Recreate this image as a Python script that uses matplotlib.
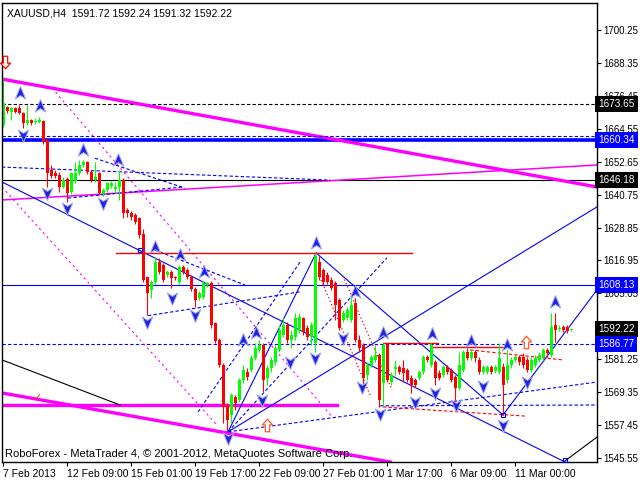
import matplotlib
matplotlib.use("Agg")
import matplotlib.pyplot as plt
from matplotlib.path import Path
from matplotlib.transforms import blended_transform_factory

plt.rcParams['font.family'] = ['Liberation Sans', 'DejaVu Sans']

# XAUUSD H4 candles, bar index 0 = 7 Feb 2013
opens = [1665.9, 1672.4, 1670.6, 1672.1, 1672.1, 1670.2, 1666.6, 1667.7, 1667.0, 1667.0,
         1667.4, 1660.5, 1649.6, 1648.6, 1647.8, 1643.5, 1646.4, 1641.7, 1645.7, 1648.6,
         1651.5, 1652.5, 1648.9, 1646.0, 1648.6, 1641.0, 1642.4, 1643.9, 1642.8, 1643.5,
         1646.0, 1635.2, 1634.1, 1633.4, 1632.3, 1626.5, 1611.0, 1606.3, 1609.2, 1616.4,
         1615.3, 1611.7, 1612.8, 1611.0, 1609.2, 1614.6, 1613.5, 1611.0, 1606.6, 1603.4,
         1603.8, 1608.1, 1608.8, 1594.3, 1588.2, 1579.2, 1564.7, 1561.1, 1567.6, 1566.5,
         1573.8, 1576.6, 1577.4, 1581.7, 1584.6, 1586.4, 1574.5, 1578.1, 1580.3, 1584.6,
         1590.0, 1593.6, 1588.2, 1589.3, 1591.8, 1596.2, 1592.5, 1589.3, 1587.1, 1616.4,
         1613.5, 1611.7, 1609.9, 1608.8, 1602.7, 1595.4, 1596.2, 1595.4, 1601.6, 1588.2,
         1586.4, 1575.6, 1579.2, 1581.0, 1582.8, 1572.7, 1586.4, 1573.0, 1577.7, 1578.5,
         1578.1, 1577.4, 1574.5, 1573.8, 1574.5, 1576.6, 1582.1, 1579.2, 1580.3, 1576.3,
         1575.6, 1578.5, 1577.4, 1574.8, 1570.9, 1577.4, 1583.9, 1581.7, 1583.9, 1581.0,
         1576.6, 1576.6, 1578.5, 1577.0, 1576.6, 1578.5, 1573.8, 1579.2, 1581.0, 1582.1,
         1582.1, 1581.0, 1577.4, 1579.2, 1581.0, 1582.1, 1584.6, 1582.8, 1593.6, 1592.2,
         1592.9, 1592.9, 1591.72]
highs = [1682.9, 1672.8, 1672.4, 1672.4, 1673.1, 1670.6, 1673.1, 1668.1, 1668.4, 1668.8,
         1667.7, 1660.8, 1651.5, 1649.6, 1648.9, 1647.1, 1647.1, 1648.9, 1652.5, 1653.3,
         1653.3, 1652.9, 1649.6, 1652.5, 1648.9, 1643.1, 1645.3, 1645.7, 1645.3, 1649.6,
         1646.8, 1635.9, 1634.8, 1634.1, 1632.7, 1628.3, 1611.3, 1609.9, 1618.2, 1617.8,
         1616.0, 1613.5, 1613.5, 1611.3, 1615.3, 1615.3, 1614.2, 1611.7, 1607.4, 1605.9,
         1609.5, 1609.2, 1609.5, 1594.7, 1588.9, 1579.9, 1565.4, 1569.1, 1568.3, 1574.5,
         1579.2, 1578.1, 1582.8, 1587.1, 1588.2, 1587.1, 1579.2, 1582.1, 1586.4, 1593.6,
         1596.2, 1594.7, 1591.8, 1598.0, 1598.0, 1596.5, 1593.6, 1594.7, 1619.65, 1618.6,
         1614.2, 1612.8, 1611.0, 1609.5, 1603.4, 1599.0, 1600.1, 1603.4, 1603.4, 1590.0,
         1587.1, 1580.3, 1582.8, 1586.4, 1583.5, 1587.1, 1587.1, 1576.6, 1581.0, 1579.2,
         1581.0, 1578.1, 1575.6, 1574.5, 1577.4, 1582.8, 1582.8, 1587.1, 1581.0, 1577.4,
         1579.2, 1579.2, 1578.1, 1575.6, 1583.9, 1584.6, 1585.3, 1584.6, 1584.6, 1582.1,
         1579.2, 1579.2, 1579.2, 1579.2, 1587.1, 1579.9, 1584.6, 1582.1, 1582.8, 1582.8,
         1583.5, 1582.1, 1582.1, 1582.8, 1583.9, 1585.3, 1585.3, 1598.0, 1598.0, 1593.6,
         1593.6, 1593.6, 1592.24]
lows = [1665.2, 1670.2, 1667.7, 1670.2, 1669.9, 1664.8, 1666.0, 1665.9, 1666.3, 1666.6,
        1659.0, 1643.5, 1646.8, 1646.8, 1641.7, 1643.1, 1638.1, 1641.0, 1645.0, 1647.8,
        1650.7, 1648.2, 1645.3, 1645.3, 1640.6, 1640.2, 1641.7, 1643.1, 1641.3, 1638.8,
        1632.3, 1632.7, 1631.6, 1630.1, 1625.1, 1609.2, 1597.2, 1603.4, 1608.4, 1612.1,
        1609.2, 1611.0, 1607.0, 1609.9, 1608.4, 1612.1, 1610.2, 1605.9, 1600.1, 1602.7,
        1603.0, 1607.4, 1592.5, 1587.1, 1578.5, 1558.2, 1555.0, 1558.2, 1562.9, 1565.8,
        1572.7, 1573.8, 1576.6, 1581.0, 1583.9, 1569.4, 1571.9, 1576.6, 1579.2, 1583.9,
        1589.3, 1587.1, 1585.3, 1588.2, 1590.7, 1590.0, 1588.2, 1586.4, 1583.9, 1609.9,
        1608.1, 1608.4, 1606.3, 1595.4, 1591.8, 1594.7, 1595.4, 1594.7, 1587.5, 1583.9,
        1571.2, 1573.8, 1578.5, 1580.3, 1564.0, 1564.7, 1573.0, 1571.9, 1575.6, 1575.9,
        1573.0, 1573.0, 1569.1, 1571.2, 1573.8, 1575.9, 1580.3, 1578.5, 1571.9, 1573.8,
        1574.8, 1575.9, 1573.0, 1566.5, 1570.1, 1576.6, 1581.0, 1581.0, 1580.3, 1575.9,
        1575.9, 1575.9, 1575.9, 1576.3, 1575.9, 1561.1, 1572.7, 1578.1, 1580.3, 1579.2,
        1578.1, 1576.6, 1576.6, 1578.5, 1580.3, 1581.0, 1582.1, 1582.1, 1587.5, 1591.5,
        1591.1, 1590.7, 1591.32]
closes = [1673.9, 1671.0, 1672.1, 1670.6, 1670.2, 1666.6, 1667.7, 1666.6, 1667.4, 1667.7,
          1659.8, 1648.6, 1647.5, 1647.5, 1643.5, 1646.0, 1641.3, 1648.6, 1648.6, 1651.5,
          1652.5, 1648.9, 1646.0, 1647.1, 1641.3, 1642.4, 1644.9, 1644.9, 1643.5, 1646.0,
          1634.1, 1634.1, 1632.7, 1630.9, 1626.3, 1609.9, 1605.2, 1609.2, 1616.4, 1612.8,
          1609.9, 1612.8, 1610.6, 1610.6, 1614.6, 1612.8, 1611.0, 1606.6, 1602.7, 1605.2,
          1608.8, 1608.8, 1593.6, 1587.8, 1579.2, 1564.0, 1559.3, 1568.3, 1565.4, 1573.8,
          1577.4, 1574.8, 1581.7, 1585.3, 1586.4, 1573.8, 1578.1, 1581.0, 1585.3, 1591.8,
          1593.6, 1588.2, 1590.0, 1596.2, 1596.5, 1591.1, 1589.3, 1593.6, 1618.6, 1611.0,
          1609.2, 1609.2, 1607.0, 1600.9, 1592.5, 1598.0, 1599.0, 1600.9, 1588.2, 1585.3,
          1574.5, 1579.2, 1582.1, 1582.8, 1566.5, 1586.4, 1573.8, 1575.6, 1578.5, 1576.6,
          1576.3, 1573.8, 1571.9, 1571.9, 1576.6, 1582.1, 1581.0, 1586.4, 1574.5, 1574.5,
          1578.5, 1576.6, 1573.8, 1570.9, 1579.2, 1583.9, 1581.7, 1583.9, 1581.7, 1576.6,
          1578.5, 1578.5, 1576.6, 1578.5, 1581.7, 1571.9, 1579.2, 1581.0, 1582.1, 1580.3,
          1579.2, 1577.4, 1581.0, 1581.7, 1582.8, 1584.6, 1583.5, 1592.9, 1591.8, 1592.5,
          1591.8, 1591.5, 1592.22]

xtick_bars = [0, 16, 32, 48, 64, 80, 96, 112, 128]
xtick_labels = ["7 Feb 2013", "12 Feb 09:00", "15 Feb 01:00", "19 Feb 17:00", "22 Feb 09:00",
                "27 Feb 01:00", "1 Mar 17:00", "6 Mar 09:00", "11 Mar 00:00"]
ytick_prices = [1700.25, 1688.35, 1676.45, 1664.55, 1652.65, 1640.75, 1628.85, 1616.95,
                1605.05, 1593.15, 1581.25, 1569.35, 1557.45, 1545.55]

# horizontal levels with their price tags on the right scale
level_prices = [1673.65, 1660.34, 1646.18, 1608.13, 1592.22, 1586.77]
level_tags = ["1673.65", "1660.34", "1646.18", "1608.13", "1592.22", "1586.77"]
level_tag_colors = ["black", "#0000ff", "black", "#0000ff", "black", "#0000ff"]

# drawn analysis objects: (bar0, price0, bar1, price1)
magenta_thick = [(-0.3, 1682.5, 148.4, 1643.5), (-0.3, 1564.7, 83.4, 1564.7),
                 (-0.3, 1569.05, 96.7, 1544.1)]
magenta_thin = [(-0.3, 1638.8, 148.4, 1651.45)]
magenta_dotted = [(-0.3, 1643.5, 53.4, 1557.5), (12.2, 1679.3, 82.2, 1560.4)]
blue_solid = [(-0.3, 1645.3, 140.4, 1544.1), (56.2, 1555.0, 148.4, 1636.3),
              (78.2, 1619.65, 124.9, 1561.1), (56.2, 1555.0, 78.2, 1619.65),
              (124.9, 1561.1, 148.4, 1606.3)]
blue_dashed = [(56.2, 1555.0, 148.4, 1573.0), (56.2, 1555.0, 95.9, 1617.9),
               (48.7, 1562.2, 74.2, 1616.4), (94.2, 1564.4, 148.4, 1564.7),
               (-0.3, 1650.7, 81.7, 1646.0), (16.2, 1639.5, 44.9, 1643.5),
               (22.9, 1653.9, 45.4, 1643.1), (36.2, 1597.0, 74.2, 1605.6),
               (37.9, 1620.7, 60.4, 1608.1), (-0.3, 1661.9, 148.4, 1661.9)]
black_thin = [(-0.3, 1581.0, 29.2, 1564.7), (140.4, 1544.5, 148.4, 1553.1)]
red_solid = [(28.2, 1619.65, 102.2, 1619.65), (94.9, 1587.1, 108.7, 1587.1),
             (107.2, 1585.7, 126.7, 1585.7)]
red_dashed = [(116.7, 1584.6, 139.9, 1581.0), (94.9, 1564.0, 130.4, 1560.7)]
red_dotted = [(78.7, 1612.4, 91.7, 1568.3), (84.9, 1611.3, 97.2, 1570.1)]

# fractal-style arrows
up_bars = [4.2, 9.2, 19.9, 28.7, 37.9, 44.2, 50.2, 59.9, 63.2, 78.2, 87.9, 94.9, 107.2,
           116.9, 125.9, 137.9]
up_prices = [1677.5, 1672.8, 1656.9, 1653.3, 1621.8, 1618.9, 1612.8, 1588.2, 1590.7, 1623.3,
             1605.6, 1590.7, 1590.4, 1587.8, 1586.4, 1601.9]
dn_bars = [4.9, 10.9, 15.9, 24.9, 35.9, 42.2, 47.9, 56.2, 64.7, 71.7, 77.9, 84.9, 89.7,
           94.2, 102.9, 107.9, 113.2, 119.9, 124.9, 130.9]
dn_prices = [1662.3, 1641.3, 1635.9, 1637.7, 1594.7, 1603.4, 1597.2, 1552.8, 1566.5, 1580.3,
             1581.7, 1588.9, 1571.2, 1561.5, 1565.8, 1569.1, 1564.7, 1571.6, 1557.5, 1573.0]
hollow_up_bars = [65.9, 130.7]
hollow_up_prices = [1557.5, 1587.5]
square_bars = [34.2, 124.9, 140.4]
square_prices = [1620.7, 1561.1, 1544.8]

fig = plt.figure(figsize=(6.4, 4.8), dpi=100)
ax = fig.add_axes([2 / 640, 18 / 480, 595 / 640, 459 / 480])
ax.set_xlim(-0.3, 148.4)
ax.set_ylim(1544.1, 1710.0)


def draw(segs, **kw):
    for x0, y0, x1, y1 in segs:
        ax.plot([x0, x1], [y0, y1], **kw)


# full-width levels
ax.axhline(1673.65, color="black", lw=0.8, ls=(0, (3, 2)), zorder=1)
ax.axhline(1660.34, color="#0000ff", lw=2.6, zorder=1)
ax.axhline(1646.18, color="black", lw=0.8, zorder=1)
ax.axhline(1608.13, color="#0000ff", lw=0.8, zorder=1)
ax.axhline(1586.77, color="#0000ff", lw=0.8, ls=(0, (3, 2)), zorder=1)

draw(magenta_thick, color="#ff00ff", lw=2.4, zorder=1)
draw(magenta_thin, color="#ff00ff", lw=1.1, zorder=1)
draw(magenta_dotted, color="#ff00ff", lw=0.8, ls=(0, (2, 3)), zorder=1)
draw(blue_solid, color="#0000ff", lw=0.8, zorder=1)
draw(blue_dashed, color="#0000ff", lw=0.8, ls=(0, (3, 2)), zorder=1)
draw(black_thin, color="black", lw=0.8, zorder=1)
draw(red_solid, color="#ff0000", lw=1.0, zorder=1)
draw(red_dashed, color="#ff0000", lw=0.8, ls=(0, (3, 2)), zorder=1)
draw(red_dotted, color="#ff0000", lw=0.9, ls=(0, (1, 2)), zorder=1)

# candles
for i, (o, h, l, c) in enumerate(zip(opens, highs, lows, closes)):
    col = "#00ff00" if c >= o else "#ff0000"
    ax.vlines(i, min(l, o, c), max(h, o, c), color=col, lw=0.8, zorder=2)
    body = c - o if abs(c - o) > 0.36 else 0.36
    ax.bar(i, body, bottom=o, width=0.75, color=col, linewidth=0, zorder=2)

# arrow markers
up_arrow = Path([(0, 1), (0.75, -0.8), (0, -0.3), (-0.75, -0.8), (0, 1)],
                [Path.MOVETO, Path.LINETO, Path.LINETO, Path.LINETO, Path.CLOSEPOLY])
dn_arrow = Path([(0, -1), (0.75, 0.8), (0, 0.3), (-0.75, 0.8), (0, -1)],
                [Path.MOVETO, Path.LINETO, Path.LINETO, Path.LINETO, Path.CLOSEPOLY])
block_up = Path([(0, 1), (0.8, 0.1), (0.35, 0.1), (0.35, -1), (-0.35, -1), (-0.35, 0.1),
                 (-0.8, 0.1), (0, 1)],
                [Path.MOVETO] + [Path.LINETO] * 6 + [Path.CLOSEPOLY])
block_dn = Path([(0, -1), (0.8, -0.1), (0.35, -0.1), (0.35, 1), (-0.35, 1), (-0.35, -0.1),
                 (-0.8, -0.1), (0, -1)],
                [Path.MOVETO] + [Path.LINETO] * 6 + [Path.CLOSEPOLY])

ax.plot(up_bars, up_prices, ls="none", marker=up_arrow, ms=10, mfc="#2323d8",
        mec="#a0a8ff", mew=0.7, zorder=4)
ax.plot(dn_bars, dn_prices, ls="none", marker=dn_arrow, ms=10, mfc="#2323d8",
        mec="#a0a8ff", mew=0.7, zorder=4)
ax.plot(hollow_up_bars, hollow_up_prices, ls="none", marker=block_up, ms=9, mfc="white",
        mec="#ff5a28", mew=0.9, zorder=4)
ax.plot([0.4], [1688.7], ls="none", marker=block_dn, ms=9, mfc="white", mec="#ff0000",
        mew=0.9, zorder=4, clip_on=False)
ax.plot(square_bars, square_prices, ls="none", marker="s", ms=3.5, mfc="none",
        mec="#0000ff", mew=0.8, zorder=4)
ax.text(8.4, 1567.2, "\u2713", color="#ff3000", fontsize=8, ha="center", va="center",
        family="DejaVu Sans", zorder=4)

# axes styling
for s in ax.spines.values():
    s.set_color("black")
    s.set_linewidth(1.0)
ax.yaxis.tick_right()
ax.set_yticks(ytick_prices)
ax.set_yticklabels([f"{v:.2f}" for v in ytick_prices])
ax.set_xticks(xtick_bars)
ax.set_xticklabels(xtick_labels)
ax.tick_params(axis="both", direction="out", length=3, width=0.8, labelsize=7.5,
               colors="black")
ax.tick_params(axis="y", pad=1.5, labelsize=7)
ax.tick_params(axis="x", pad=2)
for t in ax.get_xticklabels():
    t.set_horizontalalignment("left")

tr = blended_transform_factory(ax.transAxes, ax.transData)
for p, lab, col in zip(level_prices, level_tags, level_tag_colors):
    ax.text(1.002, p, lab, transform=tr, ha="left", va="center", color="white",
            fontsize=7.2, zorder=6, clip_on=False,
            bbox=dict(boxstyle="square,pad=0.3", fc=col, ec="none"))

ax.text(0.008, 0.988, "XAUUSD,H4  1591.72 1592.24 1591.32 1592.22", transform=ax.transAxes,
        ha="left", va="top", fontsize=7.5, color="black", zorder=6)
ax.text(0.005, 0.006, "RoboForex - MetaTrader 4, \u00a9 2001-2012, MetaQuotes Software Corp.",
        transform=ax.transAxes, ha="left", va="bottom", fontsize=8, color="black", zorder=6)

fig.savefig("out.png", dpi=100, facecolor="white")
